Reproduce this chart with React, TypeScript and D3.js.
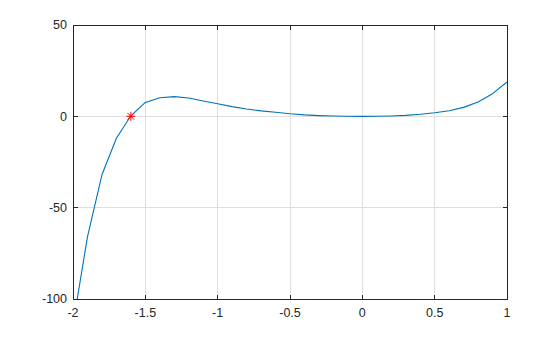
import React from "react";
import * as d3 from "d3";

const xs = [-2, -1.9, -1.8, -1.7, -1.6, -1.5, -1.4, -1.3, -1.2, -1.1, -1.0, -0.9, -0.8, -0.7, -0.6, -0.5, -0.4, -0.3, -0.2, -0.1, 0, 0.1, 0.2, 0.3, 0.4, 0.5, 0.6, 0.7, 0.8, 0.9, 1.0];
const ys = [-114, -66, -32, -12, 0.3, 7.6, 10.2, 10.8, 10.0, 8.4, 6.9, 5.3, 4.0, 3.0, 2.2, 1.4, 0.8, 0.4, 0.15, 0.03, 0, 0.03, 0.2, 0.5, 1.1, 2.0, 3.1, 4.9, 7.8, 12.4, 18.8];
const xTicks = [-2, -1.5, -1, -0.5, 0, 0.5, 1];
const yTicks = [-100, -50, 0, 50];
const markerX = [-1.6];
const markerY = [0];

export default function App() {
  const W = 560, H = 337;
  const L = 73, R = 507, T = 25, B = 299;
  const x = d3.scaleLinear().domain([-2, 1]).range([L, R]);
  const y = d3.scaleLinear().domain([-100, 50]).range([B, T]);
  const pts = xs.map((v, i) => [v, ys[i]] as [number, number]);
  const line = d3.line<[number, number]>().x(d => x(d[0])).y(d => y(d[1]));
  const font = "'Liberation Sans', Arial, Helvetica, sans-serif";
  const axisColor = "#262626";
  const gridColor = "#dfdfdf";
  return (
    <svg width={W} height={H} style={{ position: "absolute", left: 0, top: 0, background: "#fff" }}>
      <defs>
        <clipPath id="plot"><rect x={L} y={T} width={R - L} height={B - T} /></clipPath>
      </defs>
      <rect x={0} y={0} width={W} height={H} fill="#fff" />
      {xTicks.map(t => (
        <line key={"gx" + t} x1={x(t)} x2={x(t)} y1={T} y2={B} stroke={gridColor} strokeWidth={1} shapeRendering="crispEdges" />
      ))}
      {yTicks.map(t => (
        <line key={"gy" + t} x1={L} x2={R} y1={y(t)} y2={y(t)} stroke={gridColor} strokeWidth={1} shapeRendering="crispEdges" />
      ))}
      <g clipPath="url(#plot)">
        <path d={line(pts) || ""} fill="none" stroke="#0072BD" strokeWidth={1.1} strokeLinejoin="round" />
      </g>
      {markerX.map((mx, i) => {
        const cx = x(mx), cy = y(markerY[i]);
        const r = 4.5;
        const d = r * 0.72;
        return (
          <g key={"m" + i} stroke="#ff0000" strokeWidth={1}>
            <line x1={cx - r} x2={cx + r} y1={cy} y2={cy} />
            <line x1={cx} x2={cx} y1={cy - r} y2={cy + r} />
            <line x1={cx - d} x2={cx + d} y1={cy - d} y2={cy + d} />
            <line x1={cx - d} x2={cx + d} y1={cy + d} y2={cy - d} />
          </g>
        );
      })}
      <rect x={L} y={T} width={R - L} height={B - T} fill="none" stroke={axisColor} strokeWidth={1} shapeRendering="crispEdges" />
      {xTicks.map(t => (
        <g key={"tx" + t}>
          <line x1={x(t)} x2={x(t)} y1={B} y2={B - 4.5} stroke={axisColor} strokeWidth={1} shapeRendering="crispEdges" />
          <line x1={x(t)} x2={x(t)} y1={T} y2={T + 4.5} stroke={axisColor} strokeWidth={1} shapeRendering="crispEdges" />
          <text x={x(t)} y={B + 18} textAnchor="middle" fontFamily={font} fontSize={12.5} fill={axisColor}>{t}</text>
        </g>
      ))}
      {yTicks.map(t => (
        <g key={"ty" + t}>
          <line x1={L} x2={L + 4.5} y1={y(t)} y2={y(t)} stroke={axisColor} strokeWidth={1} shapeRendering="crispEdges" />
          <line x1={R} x2={R - 4.5} y1={y(t)} y2={y(t)} stroke={axisColor} strokeWidth={1} shapeRendering="crispEdges" />
          <text x={L - 6} y={y(t)} dy="0.35em" textAnchor="end" fontFamily={font} fontSize={12.5} fill={axisColor}>{t}</text>
        </g>
      ))}
    </svg>
  );
}
